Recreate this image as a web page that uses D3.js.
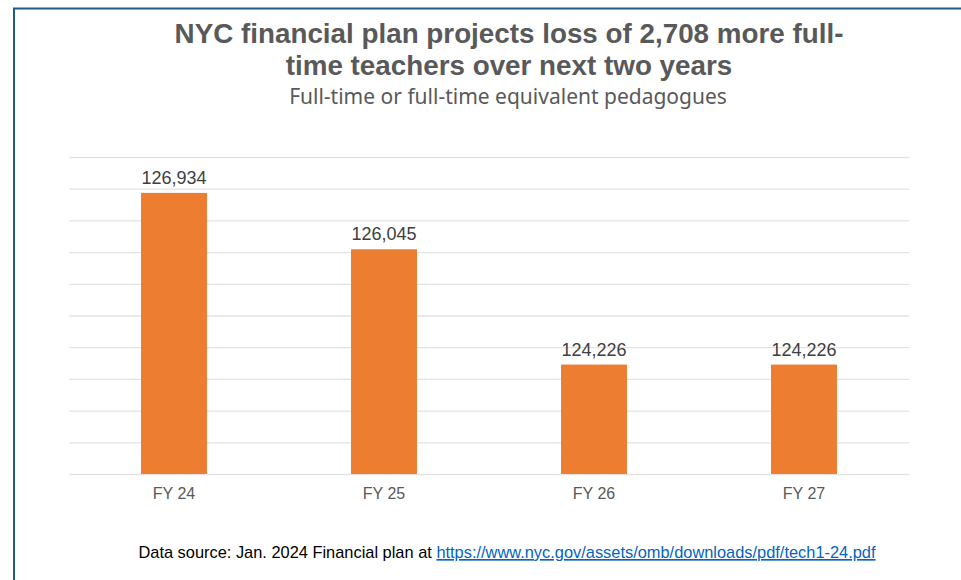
<!DOCTYPE html>
<html>
<head>
<meta charset="utf-8">
<script src="https://d3js.org/d3.v7.min.js"></script>
<style>
  body { margin: 0; background: #fff; }
  text { font-family: "Liberation Sans", Arial, sans-serif; }
  .grid line { stroke: #e3e3e3; stroke-width: 1.3px; }
  .grid path { display: none; }
</style>
</head>
<body>
<svg width="961" height="580"></svg>
<script>
var categories = ["FY 24", "FY 25", "FY 26", "FY 27"];
var values = [126934, 126045, 124226, 124226];
var yMin = 122500, yMax = 127500, yStep = 500;

var svg = d3.select("svg");

// frame
svg.append("rect")
  .attr("x", 14).attr("y", 8.5)
  .attr("width", 960).attr("height", 600)
  .attr("fill", "#fff")
  .attr("stroke", "#1f5c82")
  .attr("stroke-width", 2);

var plotLeft = 69, plotRight = 909, plotTop = 157, plotBottom = 474;

var x = d3.scaleBand()
  .domain(categories)
  .range([plotLeft, plotRight])
  .paddingInner(0.686)
  .paddingOuter(0.343);

var y = d3.scaleLinear()
  .domain([yMin, yMax])
  .range([plotBottom, plotTop]);

var ticks = d3.range(yMin, yMax + 1, yStep);

svg.append("g")
  .attr("class", "grid")
  .attr("transform", "translate(" + plotLeft + ",0)")
  .call(d3.axisLeft(y).tickValues(ticks).tickSize(-(plotRight - plotLeft)).tickFormat(""));

svg.append("g")
  .selectAll("rect")
  .data(values)
  .enter().append("rect")
  .attr("x", function(d, i) { return x(categories[i]); })
  .attr("y", function(d) { return y(d); })
  .attr("width", x.bandwidth())
  .attr("height", function(d) { return plotBottom - y(d); })
  .attr("fill", "#ed7d31");

svg.append("g")
  .selectAll("text")
  .data(values)
  .enter().append("text")
  .attr("x", function(d, i) { return x(categories[i]) + x.bandwidth() / 2; })
  .attr("y", function(d) { return y(d) - 9; })
  .attr("text-anchor", "middle")
  .attr("font-size", "18px")
  .attr("fill", "#404040")
  .text(function(d) { return d3.format(",")(d); });

svg.append("g")
  .selectAll("text")
  .data(categories)
  .enter().append("text")
  .attr("x", function(d) { return x(d) + x.bandwidth() / 2; })
  .attr("y", 499)
  .attr("text-anchor", "middle")
  .attr("font-size", "16px")
  .attr("fill", "#595959")
  .text(function(d) { return d; });

// titles
var title = svg.append("text")
  .attr("text-anchor", "middle")
  .attr("font-size", "27.8px")
  .attr("font-weight", "bold")
  .attr("fill", "#595959");
title.append("tspan").attr("x", 509).attr("y", 43).text("NYC financial plan projects loss of 2,708 more full-");
title.append("tspan").attr("x", 509).attr("y", 75).text("time teachers over next two years");

svg.append("text")
  .attr("x", 508).attr("y", 104)
  .attr("text-anchor", "middle")
  .attr("font-size", "21px")
  .style("font-family", "'Noto Sans', sans-serif")
  .attr("fill", "#595959")
  .text("Full-time or full-time equivalent pedagogues");

var src = svg.append("text")
  .attr("x", 507).attr("y", 558)
  .attr("text-anchor", "middle")
  .attr("font-size", "16.4px")
  .attr("fill", "#000");
src.append("tspan").text("Data source: Jan. 2024 Financial plan at ");
src.append("tspan")
  .attr("fill", "#0563c1")
  .attr("text-decoration", "underline")
  .text("https://www.nyc.gov/assets/omb/downloads/pdf/tech1-24.pdf");
</script>
</body>
</html>
